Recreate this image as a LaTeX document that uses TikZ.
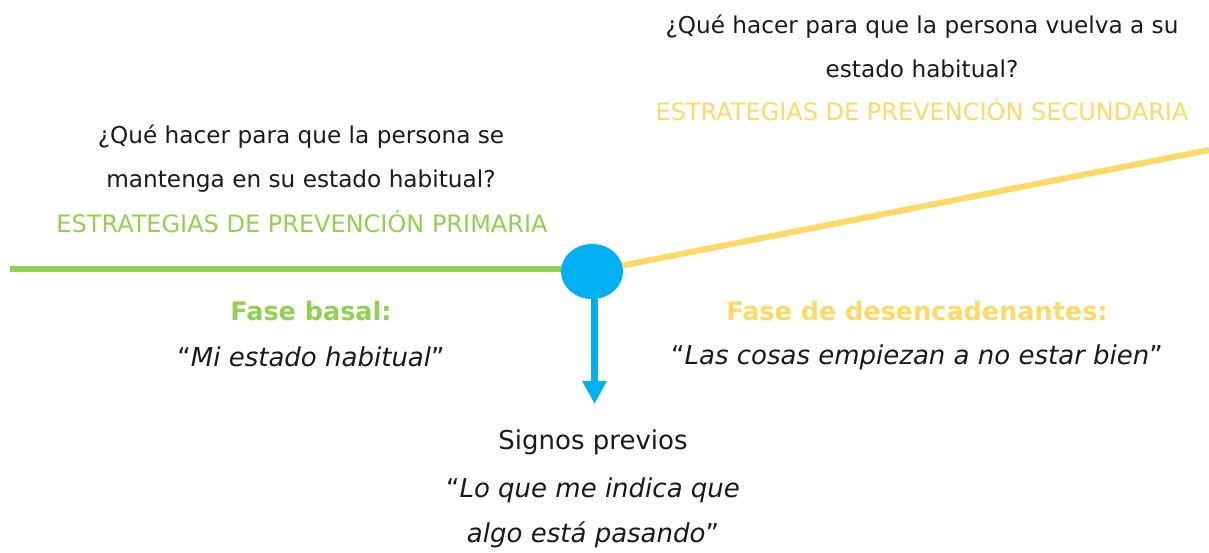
\documentclass[tikz,border=0pt]{standalone}
\usepackage{fontspec}
\setmainfont{DejaVu Sans}
\usetikzlibrary{arrows.meta,shapes.geometric,backgrounds}
\definecolor{lgreen}{HTML}{92D050}
\definecolor{lyellow}{HTML}{FFD966}
\definecolor{lblue}{HTML}{00B0F0}
\definecolor{txt}{HTML}{1A1A1A}
\tikzset{
  lbl/.style={inner sep=0pt, anchor=center, text=txt, font=\fontsize{23.2}{26}\selectfont},
  strat/.style={lbl, font=\fontsize{24}{26}\selectfont},
  phase/.style={lbl, font=\fontsize{25.5}{28}\selectfont\bfseries},
  quote/.style={lbl, font=\fontsize{26}{28}\selectfont},
  phaseline/.style={line width=6pt},
}
\begin{document}
\begin{tikzpicture}[x=1pt,y=-1pt]
\useasboundingbox (0,0) rectangle (1209,552);
\coordinate (gl) at (10,269);
\coordinate (yr) at (1209,150);
\node[ellipse, fill=lblue, minimum width=62pt, minimum height=55pt, inner sep=0pt] (dot) at (592,271.5) {};
\begin{scope}[on background layer]
\draw[phaseline, lgreen] (gl) -- (gl -| dot.center);
\draw[phaseline, lyellow] (dot.center) -- (yr);
\end{scope}
\coordinate (tip) at (594.5,404);
\draw[lblue, line width=7pt, -{Triangle[width=23pt,length=23pt]}] (dot.south -| tip) -- (tip);
% left texts
\node[lbl] (q1a) at (301,137) {¿Qué hacer para que la persona se};
\node[lbl] (q1b) at (301,181) {mantenga en su estado habitual?};
\node[strat, text=lgreen] (s1) at (302,222) {ESTRATEGIAS DE PREVENCIÓN PRIMARIA};
% right texts
\node[lbl] (q2a) at (922,27) {¿Qué hacer para que la persona vuelva a su};
\node[lbl] (q2b) at (922,69) {estado habitual?};
\node[strat, text=lyellow] (s2) at (922,110) {ESTRATEGIAS DE PREVENCIÓN SECUNDARIA};
% phases
\node[phase, text=lgreen] (f1) at (311,311) {Fase basal:};
\node[quote] (f1q) at (311,357) {“\textit{Mi estado habitual}”};
\node[phase, text=lyellow] (f2) at (917,311) {Fase de desencadenantes:};
\node[quote] (f2q) at (917,357) {“\textit{Las cosas empiezan a no estar bien}”};
% signos
\node[quote] (sg) at (593,442) {Signos previos};
\node[quote] (sg1) at (593,490) {“\textit{Lo que me indica que}};
\node[quote] (sg2) at (593,535) {\textit{algo está pasando}”};
\end{tikzpicture}
\end{document}
